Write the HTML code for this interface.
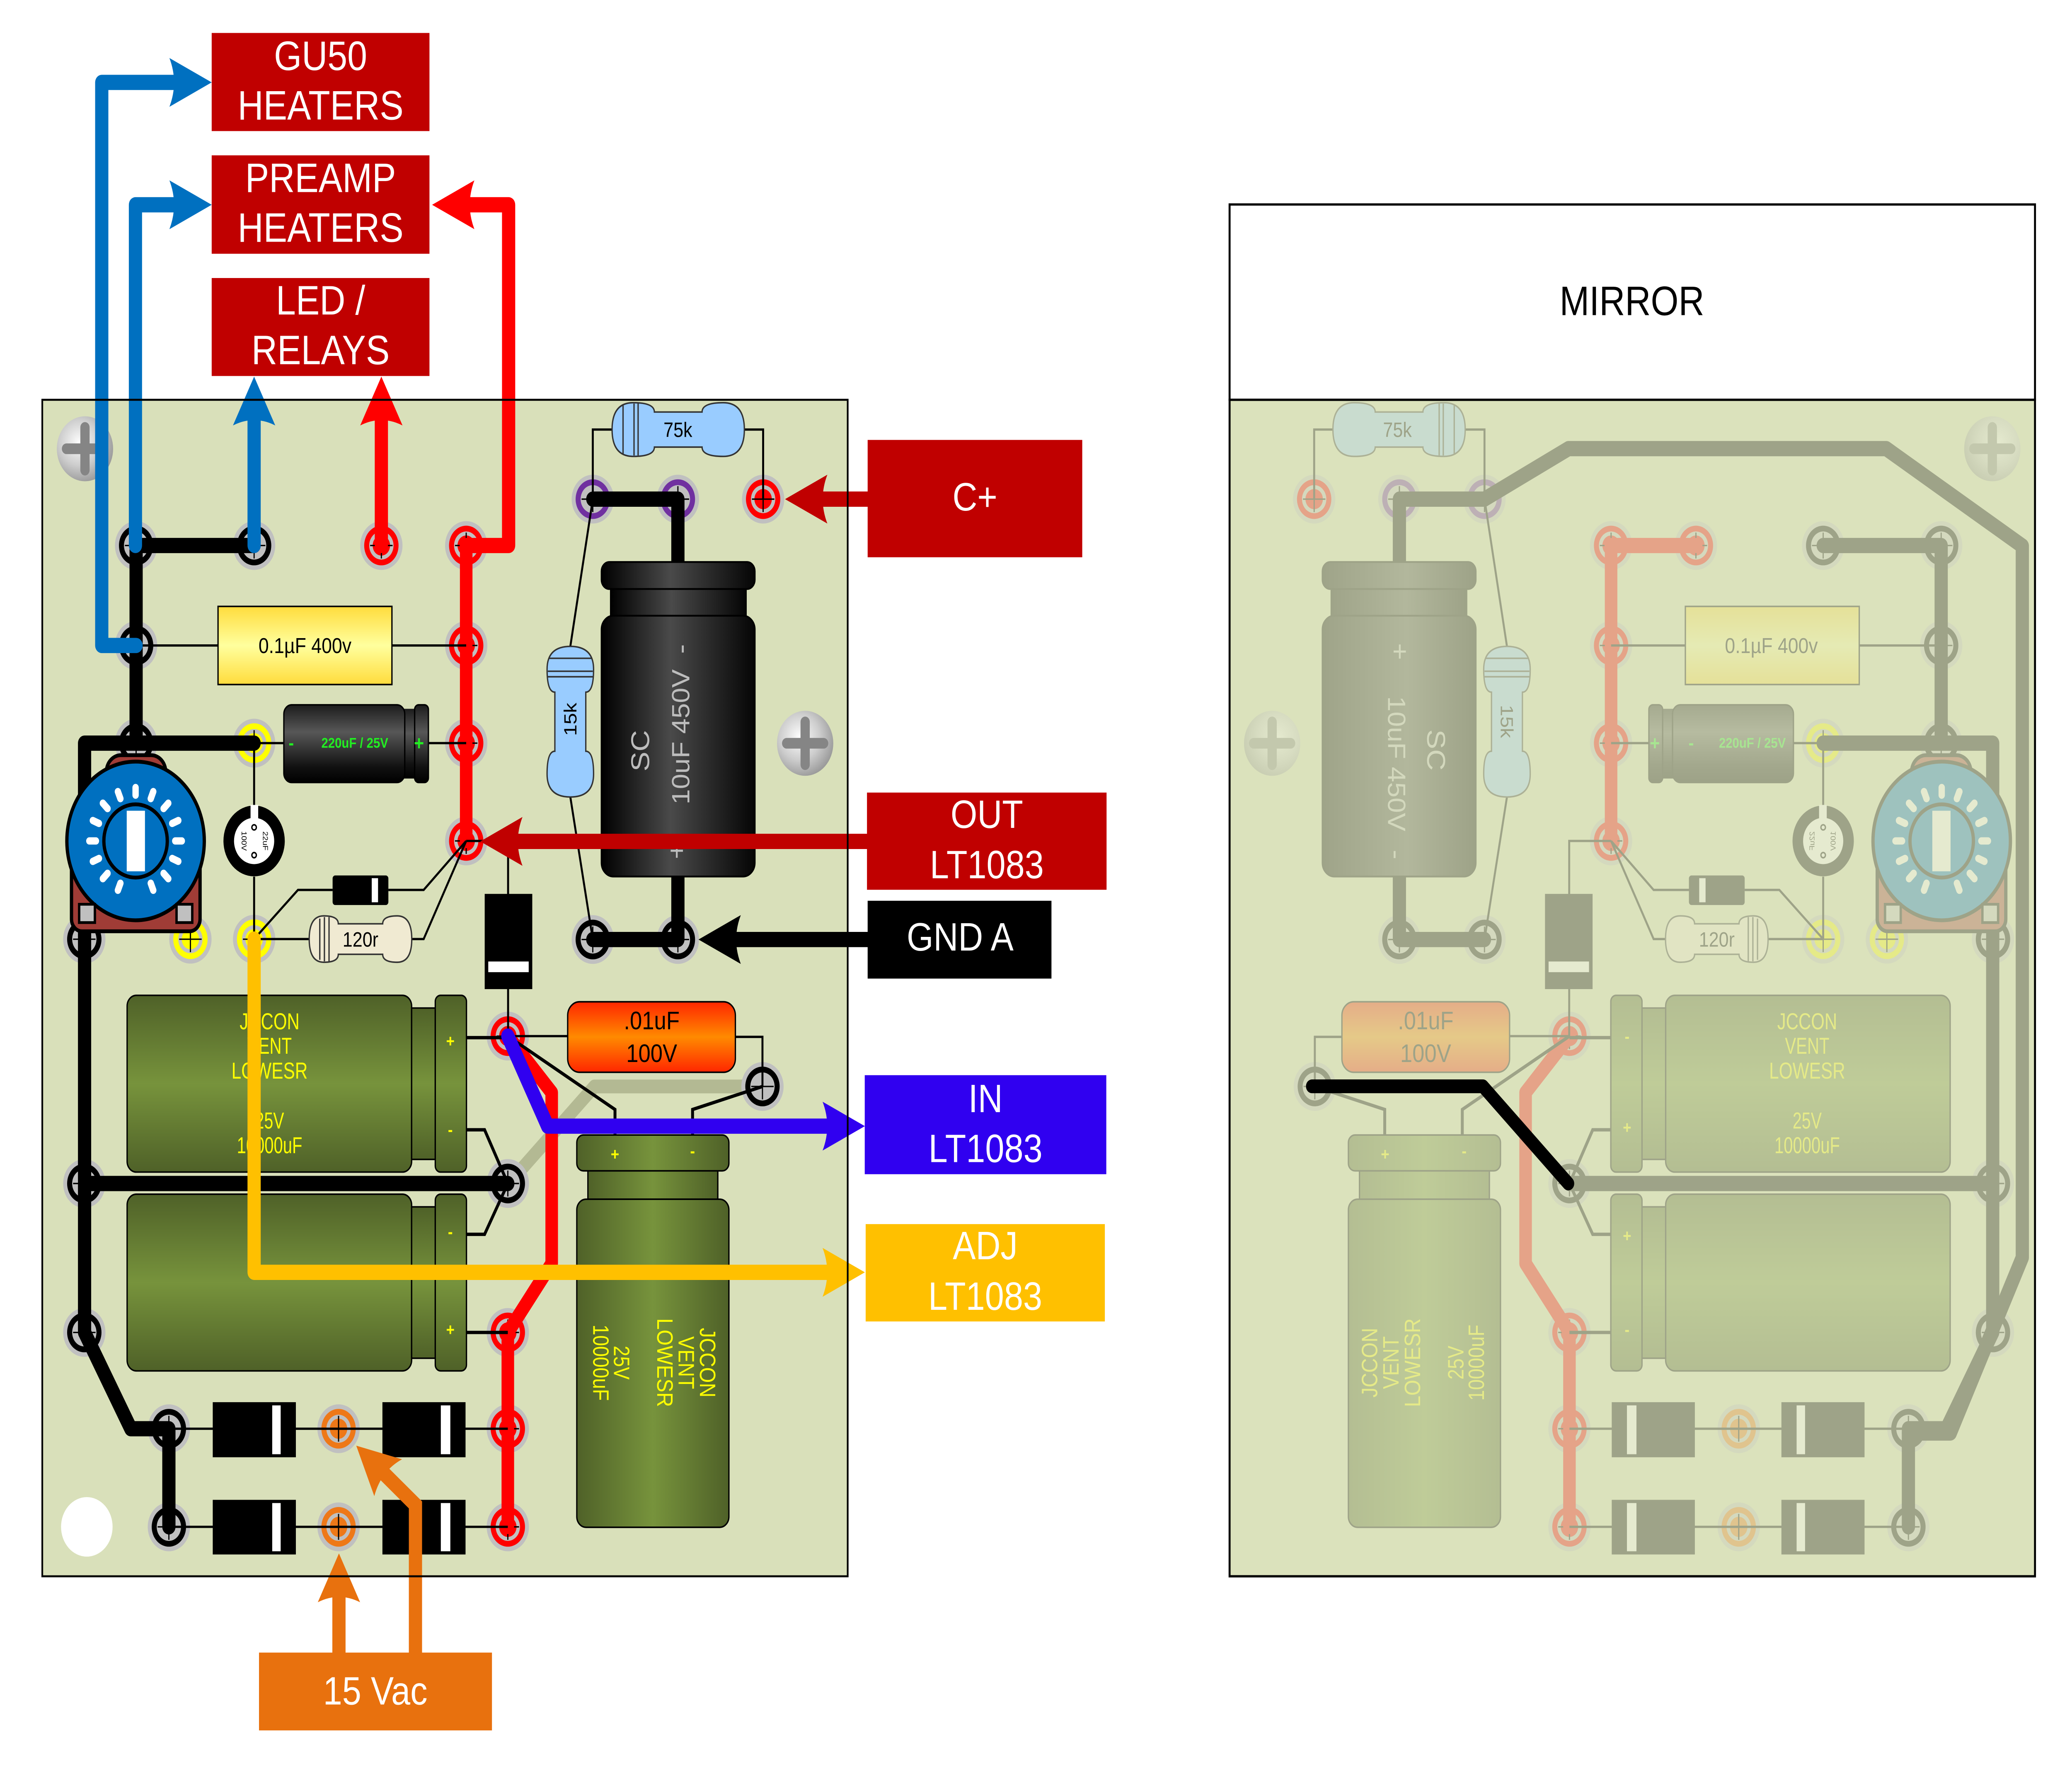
<!DOCTYPE html>
<html><head><meta charset="utf-8"><style>
html,body{margin:0;padding:0;background:#fff;width:100%;height:100%;overflow:hidden;}
svg{display:block;width:100vw;height:100vh;}
text{font-family:"Liberation Sans",Arial,sans-serif;}
</style></head><body>
<svg xmlns="http://www.w3.org/2000/svg" width="100%" height="100%" viewBox="0 0 1568 1160.6" preserveAspectRatio="none">
<defs>
<linearGradient id="gY" x1="0" y1="0" x2="0" y2="1"><stop offset="0" stop-color="#ffdc3c"/><stop offset=".5" stop-color="#ffff9e"/><stop offset="1" stop-color="#ffdc3c"/></linearGradient>
<linearGradient id="gBH" x1="0" y1="0" x2="0" y2="1"><stop offset="0" stop-color="#1c1c1c"/><stop offset=".35" stop-color="#575757"/><stop offset=".8" stop-color="#111"/><stop offset="1" stop-color="#000"/></linearGradient>
<linearGradient id="gBV" x1="0" y1="0" x2="1" y2="0"><stop offset="0" stop-color="#000"/><stop offset=".45" stop-color="#4a4a4a"/><stop offset="1" stop-color="#050505"/></linearGradient>
<linearGradient id="gGH" x1="0" y1="0" x2="0" y2="1"><stop offset="0" stop-color="#4f6128"/><stop offset=".5" stop-color="#77933c"/><stop offset="1" stop-color="#4f6128"/></linearGradient>
<linearGradient id="gGV" x1="0" y1="0" x2="1" y2="0"><stop offset="0" stop-color="#4f6128"/><stop offset=".5" stop-color="#77933c"/><stop offset="1" stop-color="#4f6128"/></linearGradient>
<linearGradient id="gO" x1="0" y1="0" x2="0" y2="1"><stop offset="0" stop-color="#ff2600"/><stop offset=".5" stop-color="#ff8a00"/><stop offset="1" stop-color="#ff2600"/></linearGradient>
<radialGradient id="gS" cx=".4" cy=".4" r=".65"><stop offset="0" stop-color="#fdfdfd"/><stop offset=".55" stop-color="#cdcdcd"/><stop offset="1" stop-color="#979797"/></radialGradient>

<g id="screw"><circle r="21.3" fill="url(#gS)"/><path d="M-14 0H14M0-14V14" stroke="#858585" stroke-width="7" stroke-linecap="round"/></g>

<g id="pR"><circle r="16" fill="#c0c0c0"/><circle r="13" fill="#f00"/><circle r="9.2" fill="#c0c0c0"/><circle r="6.6" fill="#f00"/><path d="M-8.5 0H8.5M0-8.5V8.5" stroke="#000" stroke-width=".9"/></g>
<g id="pY"><circle r="16" fill="#c0c0c0"/><circle r="13" fill="#ff0"/><circle r="9.2" fill="#c0c0c0"/><circle r="6.6" fill="#ff0"/><path d="M-8.5 0H8.5M0-8.5V8.5" stroke="#000" stroke-width=".9"/></g>
<g id="pO"><circle r="16" fill="#c0c0c0"/><circle r="13" fill="#ee7818"/><circle r="9.2" fill="#c0c0c0"/><circle r="6.6" fill="#ee7818"/><path d="M-8.5 0H8.5M0-8.5V8.5" stroke="#000" stroke-width=".9"/></g>
<g id="pK"><circle r="16" fill="#c0c0c0"/><circle r="13" fill="#000"/><circle r="9.2" fill="#c0c0c0"/><path d="M-8.5 0H8.5M0-8.5V8.5" stroke="#000" stroke-width=".9"/></g>
<g id="pP"><circle r="16" fill="#c0c0c0"/><circle r="13" fill="#7030a0"/><circle r="9.2" fill="#c0c0c0"/><path d="M-8.5 0H8.5M0-8.5V8.5" stroke="#000" stroke-width=".9"/></g>

<path id="ah" d="M0 0L-32-16Q-25 0-32 16Z"/>

<g id="pads">
<use href="#pP" x="448.6" y="327.1"/>
<use href="#pP" x="513" y="327.1"/>
<use href="#pR" x="577.5" y="327.1"/>
<use href="#pK" x="103" y="357.5"/>
<use href="#pK" x="192.3" y="357.5"/>
<use href="#pR" x="288.6" y="357.5"/>
<use href="#pR" x="352.8" y="357.5"/>
<use href="#pK" x="103" y="423"/>
<use href="#pR" x="352.8" y="423"/>
<use href="#pK" x="103" y="487"/>
<use href="#pY" x="192.3" y="487"/>
<use href="#pR" x="352.8" y="487"/>
<use href="#pR" x="352.8" y="551.1"/>
<use href="#pK" x="63.8" y="615.5"/>
<use href="#pY" x="144.1" y="615.5"/>
<use href="#pY" x="192.3" y="615.5"/>
<use href="#pK" x="448.6" y="615.7"/>
<use href="#pK" x="513" y="615.7"/>
<use href="#pR" x="384.3" y="679"/>
<use href="#pK" x="577" y="712"/>
<use href="#pK" x="384.3" y="775.6"/>
<use href="#pK" x="63.8" y="775.6"/>
<use href="#pR" x="384.3" y="873.2"/>
<use href="#pK" x="63.8" y="873.2"/>
<use href="#pK" x="127.8" y="936.3"/>
<use href="#pO" x="256.2" y="936.3"/>
<use href="#pR" x="384.3" y="936.3"/>
<use href="#pK" x="127.8" y="1000.6"/>
<use href="#pO" x="256.2" y="1000.6"/>
<use href="#pR" x="384.3" y="1000.6"/>
</g>

<g id="traces" fill="none" stroke-linecap="round" stroke-linejoin="round">
<path stroke="#000" stroke-width="10" d="M103 357.5H192.3M103 357.5V487M192.3 487H64V873.2L99 936.3H127.8V1000.6M64 775.6H384.3M448.6 327.1H513V370M513 572V615.7H448.6"/>
<path stroke="#f00" stroke-width="9.5" d="M352.8 357.5V551.1M384.3 679L417.5 716V828L384.3 873.2V1000.6"/>
</g>

<g id="comps">
<use href="#screw" x="64.3" y="294.1"/>
<use href="#screw" x="609.3" y="487.1"/>
<g fill="none" stroke="#000" stroke-width="1.5">
<path d="M103 423H165M296.6 423H352.8"/>
<path d="M192.3 487H214.8M324.2 487H352.8"/>
<path d="M192.3 487V528M192.3 574.5V615.5"/>
<path d="M192.3 615.4L225.5 583.2H251.7M293.9 583.2H320.6L352.8 551.1"/>
<path d="M192.3 615.4H234M311.6 615.4H320.6L352.8 551.1"/>
<path d="M463.2 281.5H448.6V327.1M563.3 281.5H577.5V327.1"/>
<path d="M448.6 327.1L431.6 423.6M431.6 522.3L448.6 615.7"/>
<path d="M352.8 551.1H384.5V586M384.5 648V679"/>
<path d="M384.3 679H429.6M556.5 679.5H577V712"/>
<path d="M127.8 936.3H384.3M127.8 1000.6H384.3"/>
</g>
<g fill="none" stroke="#000" stroke-width="2.2">
<path d="M353 680H384.3M353 740.4H366.7L384.3 775.6M353 808.9H366.7L384.3 775.6M353 873.2H384.3"/>
<path d="M465.4 744V727.1L384.3 679M524.1 744V727.1L577 712"/>
</g>
<rect x="165" y="397.4" width="131.6" height="51.2" fill="url(#gY)" stroke="#000" stroke-width="1"/>
<rect x="305" y="464.5" width="10" height="45.7" fill="url(#gBH)"/>
<rect x="214.8" y="461.9" width="91.5" height="50.9" rx="6" fill="url(#gBH)" stroke="#000" stroke-width="1"/>
<rect x="313.8" y="461.9" width="10.4" height="50.9" rx="3" fill="url(#gBH)" stroke="#000" stroke-width="1"/>
<circle cx="192.3" cy="551.1" r="23.2" fill="#000"/>
<circle cx="192.3" cy="551.1" r="15.2" fill="#fff"/>
<rect x="189.6" y="527.5" width="5.8" height="9.5" fill="#fff"/>
<circle cx="192.3" cy="542.2" r="1.7" fill="none" stroke="#000" stroke-width="1"/>
<circle cx="192.3" cy="560.4" r="1.7" fill="none" stroke="#000" stroke-width="1"/>
<text transform="translate(200.5 551.1) rotate(90)" font-size="5.5" text-anchor="middle" dominant-baseline="central">22uF</text>
<text transform="translate(184.5 551.1) rotate(90)" font-size="5.5" text-anchor="middle" dominant-baseline="central">100V</text>
<g stroke="#000" stroke-width="2.5">
<rect x="80.5" y="494.9" width="44.9" height="45" rx="11" fill="#a03c36"/>
<rect x="54.1" y="528" width="97.3" height="82.3" rx="8" fill="#a03c36"/>
<circle cx="102.6" cy="551.1" r="52" fill="#0070c0"/>
<circle cx="102.6" cy="551.1" r="24" fill="#0070c0"/>
</g>
<rect x="95.9" y="531.3" width="13.8" height="39.7" fill="#fff"/>
<path fill="none" stroke="#fff" stroke-width="4.8" stroke-linecap="round" d="M102.6 521.1V516.1M114.08 523.38L115.99 518.76M123.81 529.89L127.35 526.35M130.32 539.62L134.94 537.71M132.6 551.1H137.6M130.32 562.58L134.94 564.49M123.81 572.31L127.35 575.85M114.08 578.82L115.99 583.44M91.12 578.82L89.21 583.44M81.39 572.31L77.85 575.85M74.88 562.58L70.26 564.49M72.6 551.1H67.6M74.88 539.62L70.26 537.71M81.39 529.89L77.85 526.35M91.12 523.38L89.21 518.76"/>
<rect x="59.9" y="592.6" width="11.9" height="12" fill="#c0c0c0" stroke="#000" stroke-width="1.8"/>
<rect x="133.6" y="592.6" width="11.9" height="12" fill="#c0c0c0" stroke="#000" stroke-width="1.8"/>
<rect x="251.7" y="573.7" width="42.2" height="19.4" rx="2" fill="#000"/>
<rect x="281.3" y="575.5" width="4.8" height="15.8" fill="#fff"/>
<path d="M245 600.2Q256 600.2 256 605.4L289.6 605.4Q289.6 600.2 300.6 600.2Q311.6 600.2 311.6 615.4Q311.6 630.6 300.6 630.6Q289.6 630.6 289.6 625.4L256 625.4Q256 630.6 245 630.6Q234 630.6 234 615.4Q234 600.2 245 600.2Z" fill="#f0ead2" stroke="#333" stroke-width="1"/>
<path d="M242 602V629M245.5 601V630M249 601V630" stroke="#333" stroke-width="1"/>
<path d="M479.2 263.9Q495.2 263.9 495.2 270L531.3 270Q531.3 263.9 547.3 263.9Q563.3 263.9 563.3 281.5Q563.3 299.1 547.3 299.1Q531.3 299.1 531.3 293L495.2 293Q495.2 299.1 479.2 299.1Q463.2 299.1 463.2 281.5Q463.2 263.9 479.2 263.9Z" fill="#99ccff" stroke="#333" stroke-width="1"/>
<path d="M471.5 265.5V297.5M479.8 264.5V298.5M482.9 264.5V298.5" stroke="#333" stroke-width="1"/>
<g transform="translate(431.6 472.95) rotate(90)">
<path d="M-34.35 -17.6Q-19.35 -17.6 -19.35 -11.7L19.35 -11.7Q19.35 -17.6 34.35 -17.6Q49.35 -17.6 49.35 0Q49.35 17.6 34.35 17.6Q19.35 17.6 19.35 11.7L-19.35 11.7Q-19.35 17.6 -34.35 17.6Q-49.35 17.6 -49.35 0Q-49.35 -17.6 -34.35 -17.6Z" fill="#99ccff" stroke="#333" stroke-width="1"/>
<path d="M-41.55 -16V16M-33.05 -17V17M-29.45 -17V17" stroke="#333" stroke-width="1"/>
</g>
<rect x="462.1" y="386" width="102.5" height="17.5" fill="url(#gBV)" stroke="#000" stroke-width="1"/>
<rect x="455.2" y="368.3" width="116" height="17.7" rx="6" fill="url(#gBV)" stroke="#000" stroke-width="1.2"/>
<rect x="455.2" y="403.5" width="116" height="170.9" rx="9" fill="url(#gBV)" stroke="#000" stroke-width="1.2"/>
<rect x="366.8" y="585.8" width="36" height="62.4" fill="#000"/>
<rect x="369.5" y="630.1" width="30.6" height="7" fill="#fff"/>
<rect x="96.2" y="652.3" width="215.3" height="115.8" rx="7" fill="url(#gGH)" stroke="#000" stroke-width="1"/>
<rect x="311.5" y="660.6" width="17.9" height="99.2" fill="url(#gGH)" stroke="#000" stroke-width="1"/>
<rect x="329.4" y="652.3" width="23.6" height="115.8" rx="4" fill="url(#gGH)" stroke="#000" stroke-width="1"/>
<rect x="96.2" y="782.6" width="215.3" height="115.8" rx="7" fill="url(#gGH)" stroke="#000" stroke-width="1"/>
<rect x="311.5" y="790.9" width="17.9" height="99.2" fill="url(#gGH)" stroke="#000" stroke-width="1"/>
<rect x="329.4" y="782.6" width="23.6" height="115.8" rx="4" fill="url(#gGH)" stroke="#000" stroke-width="1"/>
<rect x="444.9" y="767.3" width="98.3" height="18.6" fill="url(#gGV)" stroke="#000" stroke-width="1"/>
<rect x="436.5" y="743.8" width="115.1" height="23.5" rx="5" fill="url(#gGV)" stroke="#000" stroke-width="1"/>
<rect x="436.5" y="785.9" width="115.1" height="215" rx="7" fill="url(#gGV)" stroke="#000" stroke-width="1"/>
<rect x="429.6" y="656.5" width="126.9" height="46.2" rx="9" fill="url(#gO)" stroke="#000" stroke-width="1"/>
<rect x="161" y="918.9" width="62.9" height="36.1" fill="#000"/>
<rect x="206" y="921" width="6.4" height="32" fill="#fff"/>
<rect x="289.4" y="918.9" width="62.9" height="36.1" fill="#000"/>
<rect x="333.6" y="921" width="7.2" height="32" fill="#fff"/>
<rect x="161" y="982.9" width="62.9" height="35.8" fill="#000"/>
<rect x="206" y="985" width="6.4" height="31.6" fill="#fff"/>
<rect x="289.4" y="982.9" width="62.9" height="35.8" fill="#000"/>
<rect x="333.6" y="985" width="7.2" height="31.6" fill="#fff"/>
</g>
</defs>

<rect x="32" y="262" width="609.5" height="771" fill="#d9e0ba"/>
<path d="M579 712H449.8L385 775.6" fill="none" stroke="#b3b993" stroke-width="9" stroke-linecap="round" stroke-linejoin="round"/>
<use href="#pads"/>
<use href="#traces"/>
<use href="#comps"/>
<circle cx="65.7" cy="1000.6" r="19.5" fill="#fff"/>

<text x="513" y="286.3" font-size="13.5" text-anchor="middle">75k</text>
<text transform="translate(431.6 471.4) rotate(-90)" font-size="13.5" text-anchor="middle" dominant-baseline="central">15k</text>
<text x="230.8" y="428" font-size="14" text-anchor="middle">0.1µF 400v</text>
<text x="220.4" y="491" font-size="12" font-weight="bold" fill="#22ee22" text-anchor="middle">-</text>
<text x="268.5" y="490" font-size="9.2" font-weight="bold" fill="#22ee22" text-anchor="middle">220uF / 25V</text>
<text x="317.1" y="491.5" font-size="13" font-weight="bold" fill="#22ee22" text-anchor="middle">+</text>
<text x="272.8" y="620.3" font-size="13.5" text-anchor="middle">120r</text>
<text x="493.2" y="674.5" font-size="16.5" text-anchor="middle">.01uF</text>
<text x="493.2" y="696" font-size="16.5" text-anchor="middle">100V</text>
<g fill="#bdbdbd">
<text transform="translate(484.8 492) rotate(-90)" font-size="19.5" text-anchor="middle" dominant-baseline="central">SC</text>
<text transform="translate(515.2 482.9) rotate(-90)" font-size="19" text-anchor="middle" dominant-baseline="central" textLength="88.6" lengthAdjust="spacingAndGlyphs">10uF 450V</text>
<text transform="translate(515.2 425.3) rotate(-90)" font-size="19" text-anchor="middle" dominant-baseline="central">-</text>
<text transform="translate(512 557.5) rotate(-90)" font-size="19" text-anchor="middle" dominant-baseline="central">+</text>
</g>
<g fill="#ff0" font-size="15" text-anchor="middle">
<text x="204" y="674.5" textLength="45.3" lengthAdjust="spacingAndGlyphs">JCCON</text>
<text x="204" y="690.6" textLength="33.6" lengthAdjust="spacingAndGlyphs">VENT</text>
<text x="204" y="706.9" textLength="57.6" lengthAdjust="spacingAndGlyphs">LOWESR</text>
<text x="204" y="739.6" textLength="22" lengthAdjust="spacingAndGlyphs">25V</text>
<text x="204" y="755.7" textLength="49.5" lengthAdjust="spacingAndGlyphs">10000uF</text>
</g>
<g fill="#ff0" font-size="17" text-anchor="middle">
<text transform="translate(535.4 893) rotate(90)" dominant-baseline="central" textLength="45.7" lengthAdjust="spacingAndGlyphs">JCCON</text>
<text transform="translate(519.2 893) rotate(90)" dominant-baseline="central" textLength="34.6" lengthAdjust="spacingAndGlyphs">VENT</text>
<text transform="translate(503 893) rotate(90)" dominant-baseline="central" textLength="58.2" lengthAdjust="spacingAndGlyphs">LOWESR</text>
<text transform="translate(470.2 893) rotate(90)" dominant-baseline="central" textLength="22.2" lengthAdjust="spacingAndGlyphs">25V</text>
<text transform="translate(454.6 893) rotate(90)" dominant-baseline="central" textLength="49.9" lengthAdjust="spacingAndGlyphs">10000uF</text>
</g>
<g fill="#ff0" font-size="11" font-weight="bold" text-anchor="middle">
<text x="340.8" y="686">+</text>
<text x="340.8" y="744">-</text>
<text x="340.8" y="811">-</text>
<text x="340.8" y="875">+</text>
<text x="465.4" y="760">+</text>
<text x="524.1" y="758">-</text>
</g>

<g fill="none" stroke-width="10" stroke-linecap="round" stroke-linejoin="round">
<path stroke="#0070c0" d="M103 423H77V54H132"/>
<path stroke="#0070c0" d="M102.5 357.5V134.2H132"/>
<path stroke="#0070c0" d="M192.3 357.5V274"/>
<path stroke="#f00" d="M288.6 357.5V274"/>
<path stroke="#f00" d="M352.8 357.5H384.9V134.2H355"/>
<path stroke="#c00000" stroke-linecap="butt" d="M657 327.1H620"/>
<path stroke="#c00000" stroke-linecap="butt" d="M657 551.4H390"/>
<path stroke="#000" stroke-linecap="butt" d="M657 615.7H555"/>
<path stroke="#3000f0" d="M384.3 679L414.4 738H628"/>
<path stroke="#ffc000" d="M192.3 615.4V833.8H628"/>
<path stroke="#e8710e" stroke-linecap="butt" d="M256.5 1084V1044"/>
<path stroke="#e8710e" stroke-linecap="butt" stroke-linejoin="miter" d="M314.4 1084V986.2L291 966"/>
</g>
<use href="#ah" transform="translate(160.2 54)" fill="#0070c0"/>
<use href="#ah" transform="translate(160.2 134.2)" fill="#0070c0"/>
<use href="#ah" transform="translate(192.3 246.8) rotate(-90)" fill="#0070c0"/>
<use href="#ah" transform="translate(288.6 246.8) rotate(-90)" fill="#f00"/>
<use href="#ah" transform="translate(327 134.2) rotate(180)" fill="#f00"/>
<use href="#ah" transform="translate(594.1 327.1) rotate(180)" fill="#c00000"/>
<use href="#ah" transform="translate(363.4 551.4) rotate(180)" fill="#c00000"/>
<use href="#ah" transform="translate(528.6 615.7) rotate(180)" fill="#000"/>
<use href="#ah" transform="translate(654.5 738)" fill="#3000f0"/>
<use href="#ah" transform="translate(654.5 833.8)" fill="#ffc000"/>
<use href="#ah" transform="translate(256.5 1018) rotate(-90)" fill="#e8710e"/>
<use href="#ah" transform="translate(269.6 947.4) rotate(221)" fill="#e8710e"/>

<rect x="32" y="262" width="609.5" height="771" fill="none" stroke="#000" stroke-width="1.3"/>

<rect x="160.2" y="21.6" width="164.8" height="64.3" fill="#c00000"/>
<rect x="160.2" y="101.8" width="164.8" height="64.5" fill="#c00000"/>
<rect x="160.2" y="182.2" width="164.8" height="64.2" fill="#c00000"/>
<rect x="656.6" y="288.3" width="162.4" height="76.9" fill="#c00000"/>
<rect x="656.1" y="519.4" width="181.3" height="63.7" fill="#c00000"/>
<rect x="656.6" y="590.3" width="139.1" height="51" fill="#000"/>
<rect x="654.4" y="704.6" width="182.8" height="64.9" fill="#3000f0"/>
<rect x="655.1" y="802.2" width="181" height="63.8" fill="#ffc000"/>
<rect x="196" y="1083" width="176.3" height="51" fill="#e8710e"/>
<g fill="#fff" text-anchor="middle">
<text x="242.6" y="45.9" font-size="27">GU50</text>
<text x="242.6" y="78.3" font-size="27">HEATERS</text>
<text x="242.6" y="125.9" font-size="27">PREAMP</text>
<text x="242.6" y="158.5" font-size="27">HEATERS</text>
<text x="242.6" y="206.1" font-size="27">LED /</text>
<text x="242.6" y="238.7" font-size="27">RELAYS</text>
<text x="737.8" y="334.5" font-size="26">C+</text>
<text x="746.8" y="542.5" font-size="26">OUT</text>
<text x="746.8" y="575.5" font-size="26">LT1083</text>
<text x="726.6" y="623" font-size="26">GND A</text>
<text x="745.8" y="728.9" font-size="26">IN</text>
<text x="745.8" y="761.6" font-size="26">LT1083</text>
<text x="745.6" y="825.3" font-size="26">ADJ</text>
<text x="745.6" y="858.4" font-size="26">LT1083</text>
<text x="284" y="1117" font-size="26">15 Vac</text>
</g>

<rect x="930.5" y="134" width="609.5" height="128" fill="#fff" stroke="#000" stroke-width="1.5"/>
<text x="1235" y="206.5" font-size="27" text-anchor="middle">MIRROR</text>
<rect x="930.5" y="262" width="609.5" height="771" fill="#d9e0ba"/>
<g transform="translate(1572 0) scale(-1 1)">
<use href="#pads"/>
<use href="#traces"/>
</g>
<path d="M1123.4 327.1L1187 294H1427.4L1530.4 357.8V824.1L1475.9 939.1H1444.2" fill="none" stroke="#000" stroke-width="10" stroke-linejoin="round" stroke-linecap="round"/>
<path d="M1219.2 357.5H1283.4" stroke="#f00" stroke-width="10" stroke-linecap="round"/>
<g transform="translate(1572 0) scale(-1 1)">
<use href="#comps"/>
</g>
<text x="1057.5" y="286.3" font-size="13.5" text-anchor="middle">75k</text>
<text transform="translate(1140.4 472.8) rotate(90)" font-size="13.5" text-anchor="middle" dominant-baseline="central">15k</text>
<text x="1340.5" y="428" font-size="14" text-anchor="middle">0.1µF 400v</text>
<text x="1252.3" y="491.5" font-size="13" font-weight="bold" fill="#22ee22" text-anchor="middle">+</text>
<text x="1279.8" y="491" font-size="12" font-weight="bold" fill="#22ee22" text-anchor="middle">-</text>
<text x="1326.1" y="490" font-size="9.2" font-weight="bold" fill="#22ee22" text-anchor="middle">220uF / 25V</text>
<text x="1299.2" y="620.3" font-size="13.5" text-anchor="middle">120r</text>
<text x="1078.9" y="674.5" font-size="16.5" text-anchor="middle">.01uF</text>
<text x="1078.9" y="696" font-size="16.5" text-anchor="middle">100V</text>
<g fill="#bdbdbd">
<text transform="translate(1086.5 491.5) rotate(90)" font-size="19.5" text-anchor="middle" dominant-baseline="central">SC</text>
<text transform="translate(1057 500.5) rotate(90)" font-size="19" text-anchor="middle" dominant-baseline="central" textLength="88.6" lengthAdjust="spacingAndGlyphs">10uF 450V</text>
<text transform="translate(1057 560) rotate(90)" font-size="19" text-anchor="middle" dominant-baseline="central">-</text>
<text transform="translate(1059.5 427) rotate(90)" font-size="19" text-anchor="middle" dominant-baseline="central">+</text>
</g>
<g fill="#ff0" font-size="15" text-anchor="middle">
<text x="1367.6" y="674.5" textLength="45.3" lengthAdjust="spacingAndGlyphs">JCCON</text>
<text x="1367.6" y="690.6" textLength="33.6" lengthAdjust="spacingAndGlyphs">VENT</text>
<text x="1367.6" y="706.9" textLength="57.6" lengthAdjust="spacingAndGlyphs">LOWESR</text>
<text x="1367.6" y="739.6" textLength="22" lengthAdjust="spacingAndGlyphs">25V</text>
<text x="1367.6" y="755.7" textLength="49.5" lengthAdjust="spacingAndGlyphs">10000uF</text>
</g>
<g fill="#ff0" font-size="17" text-anchor="middle">
<text transform="translate(1036.6 893) rotate(-90)" dominant-baseline="central" textLength="45.7" lengthAdjust="spacingAndGlyphs">JCCON</text>
<text transform="translate(1052.8 893) rotate(-90)" dominant-baseline="central" textLength="34.6" lengthAdjust="spacingAndGlyphs">VENT</text>
<text transform="translate(1069 893) rotate(-90)" dominant-baseline="central" textLength="58.2" lengthAdjust="spacingAndGlyphs">LOWESR</text>
<text transform="translate(1101.8 893) rotate(-90)" dominant-baseline="central" textLength="22.2" lengthAdjust="spacingAndGlyphs">25V</text>
<text transform="translate(1117.4 893) rotate(-90)" dominant-baseline="central" textLength="49.9" lengthAdjust="spacingAndGlyphs">10000uF</text>
</g>
<g fill="#ff0" font-size="11" font-weight="bold" text-anchor="middle">
<text x="1231.3" y="683">-</text>
<text x="1231.3" y="742.5">+</text>
<text x="1231.3" y="813.5">+</text>
<text x="1231.3" y="875">-</text>
<text x="1048.2" y="760">+</text>
<text x="1108" y="758">-</text>
</g>
<rect x="930.5" y="262" width="609.5" height="771" fill="#dbe2bc" fill-opacity="0.72"/>
<path d="M992.8 711.9H1122.2L1186.8 775.6" fill="none" stroke="#000" stroke-width="9" stroke-linecap="round" stroke-linejoin="round"/>
<rect x="930.5" y="262" width="609.5" height="771" fill="none" stroke="#000" stroke-width="1.5"/>
</svg>
</body></html>
